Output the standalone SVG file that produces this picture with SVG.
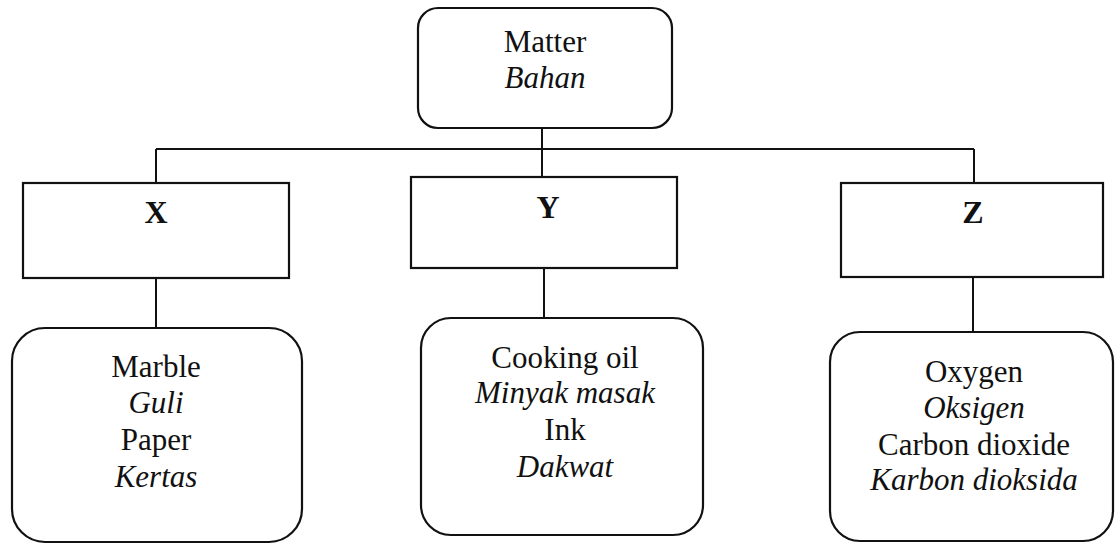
<svg xmlns="http://www.w3.org/2000/svg" width="1116" height="544" viewBox="0 0 1116 544">
<style>
.box{fill:#fff;stroke:#111;stroke-width:2.2}
.conn{fill:none;stroke:#111;stroke-width:2}
text{font-size:31px;fill:#111;text-anchor:middle}
.it{font-style:italic}
.b{font-weight:bold;font-size:32px}
</style>
<rect width="1116" height="544" fill="#fff"/>
<g id="connectors">
<path class="conn" d="M542 128 V149 M156 149 H974 M156 149 V183 M542 149 V177 M974 149 V183"/>
<path class="conn" d="M156 278 V328 M544 268 V318 M973 277 V332"/>
</g>
<g font-family="Liberation Serif, Times New Roman, serif">
<g id="matter">
<rect class="box" x="418" y="8" width="254" height="120" rx="20"/>
<text x="545" y="52">Matter</text>
<text class="it" x="545" y="88">Bahan</text>
</g>
<g id="x">
<rect class="box" x="23" y="183" width="266" height="95"/>
<text class="b" x="156" y="223">X</text>
</g>
<g id="y">
<rect class="box" x="411" y="177" width="266" height="91"/>
<text class="b" x="548" y="218">Y</text>
</g>
<g id="z">
<rect class="box" x="841" y="183" width="262" height="94"/>
<text class="b" x="973" y="223">Z</text>
</g>
<g id="x-examples">
<rect class="box" x="12" y="328" width="290" height="214" rx="33"/>
<text x="156" y="377">Marble</text>
<text class="it" x="156" y="413">Guli</text>
<text x="156" y="450">Paper</text>
<text class="it" x="156" y="487">Kertas</text>
</g>
<g id="y-examples">
<rect class="box" x="421" y="318" width="282" height="217" rx="30"/>
<text x="565" y="368">Cooking oil</text>
<text class="it" x="565" y="403">Minyak masak</text>
<text x="565" y="440">Ink</text>
<text class="it" x="565" y="477">Dakwat</text>
</g>
<g id="z-examples">
<rect class="box" x="830" y="332" width="283" height="209" rx="30"/>
<text x="974" y="382">Oxygen</text>
<text class="it" x="974" y="418">Oksigen</text>
<text x="974" y="455">Carbon dioxide</text>
<text class="it" x="974" y="490">Karbon dioksida</text>
</g>
</g>
</svg>
